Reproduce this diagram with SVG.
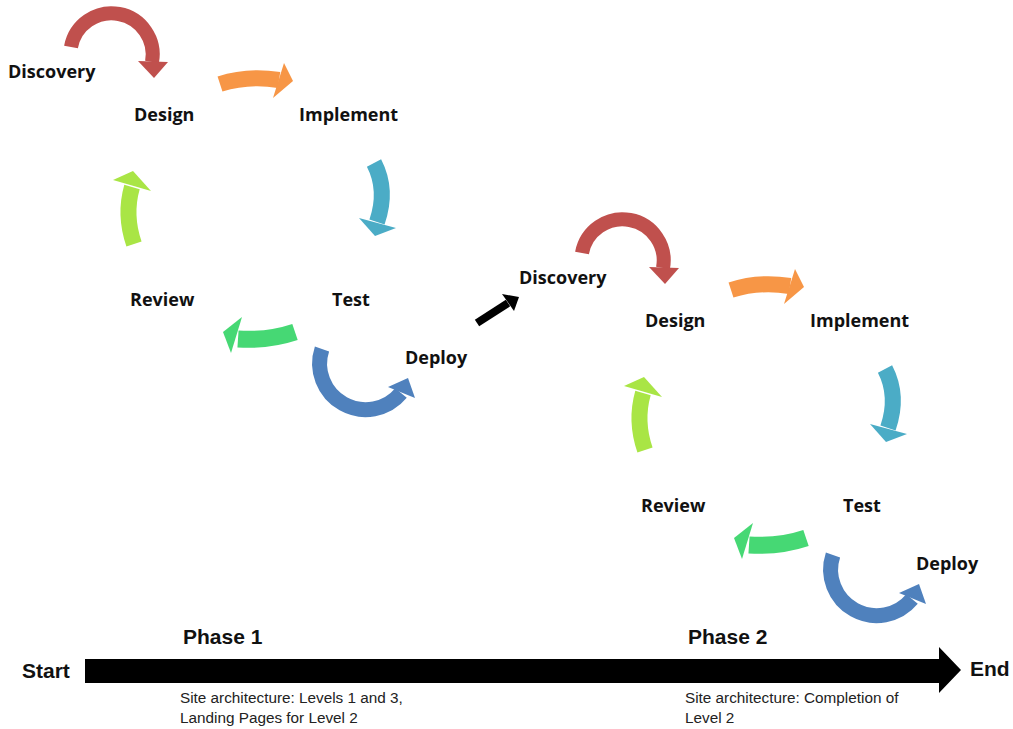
<svg xmlns="http://www.w3.org/2000/svg" xmlns:xlink="http://www.w3.org/1999/xlink" width="1013" height="729" viewBox="0 0 1013 729">
<style>
.lbl{font-family:"Open Sans","Liberation Sans",sans-serif;font-weight:700;font-size:18px;fill:#111}
.ph{font-family:"Liberation Sans",Arial,sans-serif;font-weight:700;font-size:21px;fill:#111}
.sub{font-family:"Liberation Sans",Arial,sans-serif;font-size:15.3px;fill:#222}
.sh{fill:none;stroke-linecap:butt}
</style>
<defs>
<g id="arRed"><path class="sh" d="M71,47 A41,41 0 0 1 152,62" stroke="#C0504D" stroke-width="14"/><polygon points="138,61 168,62 154,78" fill="#C0504D"/></g>
<g id="arOrange"><path class="sh" d="M220,84 Q248,75 279,80" stroke="#F79646" stroke-width="16"/><polygon points="284,63 293,81 273,98" fill="#F79646"/></g>
<g id="arTeal"><path class="sh" d="M374,163 Q388,190 377,222" stroke="#4BACC6" stroke-width="16"/><polygon points="359,218 396,228 375,236" fill="#4BACC6"/></g>
<g id="arGreen"><path class="sh" d="M295,332 Q268,341 238,339" stroke="#46D874" stroke-width="17"/><polygon points="242,317 223,332 231,353" fill="#46D874"/></g>
<g id="arBlue"><path class="sh" d="M322,349 A46,46 0 0 0 401,393" stroke="#4F81BD" stroke-width="15"/><polygon points="388,387 408,378 415,398" fill="#4F81BD"/></g>
<g id="arLime"><path class="sh" d="M134,244 Q124,215 132,187" stroke="#A9E545" stroke-width="16"/><polygon points="113,180 133,171 151,191" fill="#A9E545"/></g>
</defs>
<rect width="1013" height="729" fill="#fff"/>
<g id="connectors">
<use xlink:href="#arRed"/><use xlink:href="#arOrange"/><use xlink:href="#arTeal"/><use xlink:href="#arGreen"/><use xlink:href="#arBlue"/><use xlink:href="#arLime"/>
<g transform="translate(511,206)"><use xlink:href="#arRed"/><use xlink:href="#arOrange"/><use xlink:href="#arTeal"/><use xlink:href="#arGreen"/><use xlink:href="#arBlue"/><use xlink:href="#arLime"/></g>
<line x1="477" y1="323" x2="508" y2="303" stroke="#000" stroke-width="8"/>
<polygon points="502,294 519,297 514,311" fill="#000"/>
<polygon points="85,659 939,659 939,647 961,670 939,693 939,683 85,683" fill="#000"/>
</g>
<g id="p1-discovery"><text class="lbl" x="8" y="78">Discovery</text></g>
<g id="p1-design"><text class="lbl" x="134" y="121">Design</text></g>
<g id="p1-implement"><text class="lbl" x="299" y="121">Implement</text></g>
<g id="p1-test"><text class="lbl" x="332" y="306">Test</text></g>
<g id="p1-review"><text class="lbl" x="130" y="306">Review</text></g>
<g id="p1-deploy"><text class="lbl" x="405" y="364">Deploy</text></g>
<g id="p2-discovery"><text class="lbl" x="519" y="284">Discovery</text></g>
<g id="p2-design"><text class="lbl" x="645" y="327">Design</text></g>
<g id="p2-implement"><text class="lbl" x="810" y="327">Implement</text></g>
<g id="p2-test"><text class="lbl" x="843" y="512">Test</text></g>
<g id="p2-review"><text class="lbl" x="641" y="512">Review</text></g>
<g id="p2-deploy"><text class="lbl" x="916" y="570">Deploy</text></g>
<g id="start"><text class="ph" x="22" y="678">Start</text></g>
<g id="end"><text class="ph" x="970" y="676">End</text></g>
<g id="phase1"><text class="ph" x="183" y="644">Phase 1</text>
<text class="sub" x="180" y="703">Site architecture:  Levels 1 and 3,</text>
<text class="sub" x="180" y="723">Landing Pages for Level 2</text></g>
<g id="phase2"><text class="ph" x="688" y="644">Phase 2</text>
<text class="sub" x="685" y="703">Site architecture:  Completion of</text>
<text class="sub" x="685" y="723">Level 2</text></g>
</svg>
